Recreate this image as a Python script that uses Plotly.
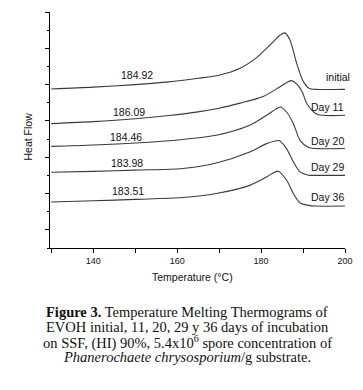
import plotly.graph_objects as go

# ---- data ----
series_names = ["initial", "Day 11", "Day 20", "Day 29", "Day 36"]
peak_labels = ["184.92", "186.09", "184.46", "183.98", "183.51"]

t_initial = [130, 140, 150, 158, 165, 170, 175, 179, 182, 184.5, 185.7, 186.9, 188.5, 190.1, 191.5, 193, 200]
hf_initial = [8.76, 8.86, 9.0, 9.15, 9.35, 9.52, 9.9, 10.5, 11.15, 11.72, 11.85, 11.44, 10.16, 9.15, 8.79, 8.74, 8.74]

t_day11 = [130, 140, 150, 158, 165, 170, 175, 180.5, 184.5, 186.3, 187.3, 188.4, 189.7, 190.9, 192.1, 193.5, 200]
hf_day11 = [6.85, 6.96, 7.12, 7.3, 7.5, 7.7, 7.98, 8.35, 8.88, 9.14, 9.22, 9.05, 8.65, 7.96, 7.59, 7.35, 7.31]

t_day20 = [130, 140, 150, 161.3, 169.3, 177.3, 181.3, 183.5, 184.7, 186.2, 187.7, 189.3, 191.3, 193, 200]
hf_day20 = [5.6, 5.67, 5.78, 5.98, 6.21, 6.76, 7.31, 7.65, 7.77, 7.45, 6.85, 5.93, 5.53, 5.48, 5.48]

t_day29 = [130, 140, 150, 161.3, 169.3, 177.3, 181.3, 183.2, 184.3, 186.0, 187.7, 189.3, 191.3, 193, 200]
hf_day29 = [4.17, 4.22, 4.29, 4.38, 4.68, 5.29, 5.75, 5.88, 5.92, 5.5, 4.74, 4.19, 4.01, 4.0, 4.0]

t_day36 = [130, 140, 150, 161.3, 169.3, 177.3, 181.3, 183, 184.1, 186.1, 187.7, 189.3, 191.3, 193, 200]
hf_day36 = [2.53, 2.6, 2.68, 2.78, 3.0, 3.45, 3.91, 4.15, 4.23, 3.73, 3.0, 2.48, 2.35, 2.31, 2.31]

x_ticks = [140, 160, 180, 200]
x_minor = [130, 150, 170, 190]

temps = [t_initial, t_day11, t_day20, t_day29, t_day36]
flows = [hf_initial, hf_day11, hf_day20, hf_day29, hf_day36]

# label placement (style), in reference-picture pixels
peak_label_pos = [(150.5, 9.52), (148.6, 7.49), (147.7, 6.12), (148.1, 4.68), (148.3, 3.16)]
name_label_px = [(352, 77.3), (345.5, 107.3), (345.5, 141), (345.5, 167.3), (345.5, 197.3)]

# The page body has an 8px default margin; draw everything 8px up/left to compensate.
OFF = 8
W, H = 363 - OFF, 390 - 2 * OFF
PLOT_L, PLOT_R, PLOT_T, PLOT_B = 50 - OFF, 345 - OFF, 12 - OFF, 248 - OFF
L, R, T, B = PLOT_L, W - PLOT_R, PLOT_T, H - PLOT_B
PH = PLOT_B - PLOT_T
PW = PLOT_R - PLOT_L

def py(pix):
    return (PLOT_B - (pix - OFF)) / PH

def px(pix):
    return ((pix - OFF) - PLOT_L) / PW

fig = go.Figure()
for name, t, hf in zip(series_names, temps, flows):
    fig.add_trace(go.Scatter(x=t, y=hf, mode="lines", name=name,
                             line=dict(color="#3a3a3a", width=1.1, shape="spline", smoothing=0.8),
                             showlegend=False, hoverinfo="skip"))

sans = "Liberation Sans, Arial, sans-serif"
serif = "Liberation Serif, Times New Roman, serif"
ann = []
for lab, (x, y) in zip(peak_labels, peak_label_pos):
    ann.append(dict(x=x, y=y, xref="x", yref="y", text=lab, showarrow=False,
                    font=dict(family=sans, size=10.5, color="#111"), xanchor="center", yanchor="middle"))
for lab, (x, y) in zip(series_names, name_label_px):
    ann.append(dict(x=px(x), y=py(y), xref="paper", yref="paper", text=lab, showarrow=False,
                    font=dict(family=sans, size=10.5, color="#111"), xanchor="right", yanchor="middle"))

ann.append(dict(x=px(27.5), y=py(137), xref="paper", yref="paper", text="Heat Flow", textangle=-90,
                showarrow=False, font=dict(family=sans, size=10.5, color="#111"), xanchor="center", yanchor="middle"))
ann.append(dict(x=px(192.5), y=py(277), xref="paper", yref="paper", text="Temperature (°C)",
                showarrow=False, font=dict(family=sans, size=10.5, color="#111"), xanchor="center", yanchor="middle"))

caption = [
    "<b>Figure 3.</b> Temperature Melting Thermograms of",
    "EVOH initial, 11, 20, 29 y 36 days of incubation",
    "on SSF, (HI) 90%, 5.4x10<sup>6</sup> spore concentration of",
    "<i>Phanerochaete chrysosporium</i>/g substrate.",
]
cap_y = [312, 327, 342, 357]
for line, yy in zip(caption, cap_y):
    ann.append(dict(x=px(187), y=py(yy), xref="paper", yref="paper", text=line, showarrow=False,
                    font=dict(family=serif, size=14.5, color="#111"), xanchor="center", yanchor="middle"))

fig.update_layout(
    width=W, height=H, margin=dict(l=L, r=R, t=T, b=B, pad=0),
    paper_bgcolor="white", plot_bgcolor="white",
    annotations=ann,
    xaxis=dict(range=[129.7, 200], tickvals=x_ticks, ticks="outside", ticklen=4, tickwidth=1,
               tickcolor="black", showline=True, linecolor="black", linewidth=1, showgrid=False,
               zeroline=False, tickfont=dict(family=sans, size=9, color="#111"),
               minor=dict(tickvals=x_minor, ticks="outside", ticklen=4, tickcolor="black", showgrid=False)),
    yaxis=dict(range=[0, 13], tick0=1, dtick=2, ticks="outside", ticklen=4, tickwidth=1,
               tickcolor="black", showline=True, linecolor="black", linewidth=1, showgrid=False,
               zeroline=False, showticklabels=False,
               minor=dict(dtick=1, ticks="outside", ticklen=2.5, tickcolor="black", showgrid=False)),
)

fig.write_html("out.html")
